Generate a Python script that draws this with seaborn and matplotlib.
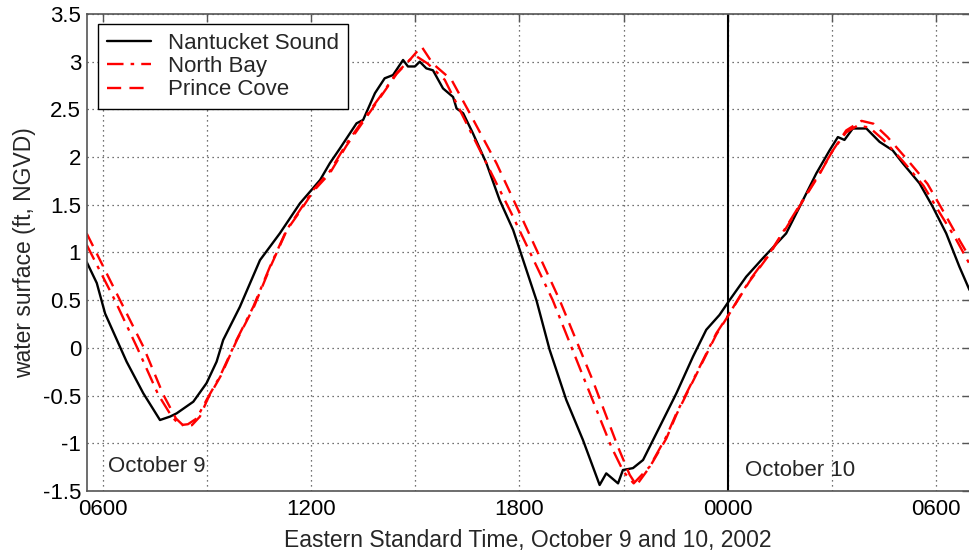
import matplotlib
matplotlib.use("Agg")
import matplotlib.pyplot as plt
import pandas as pd
import seaborn as sns

# Hours since midnight, October 9 2002 (EST)
ns_hours = [5.54, 5.83, 6.07, 6.69, 7.17, 7.65, 7.94, 8.13, 8.61, 8.99, 9.28, 9.47, 9.95,
            10.53, 11.10, 11.68, 12.26, 12.54, 12.83, 13.31, 13.50, 13.84, 14.12, 14.36,
            14.65, 14.79, 14.99, 15.13, 15.32, 15.51, 15.80, 16.09, 16.19, 16.38, 16.66,
            17.05, 17.43, 17.82, 18.49, 18.87, 19.35, 19.83, 20.31, 20.50, 20.84, 20.98,
            21.27, 21.56, 22.04, 22.52, 23.00, 23.38, 23.76, 24.05, 24.53, 25.01, 25.68,
            26.07, 26.55, 26.93, 27.17, 27.36, 27.60, 27.99, 28.37, 28.75, 29.04, 29.52,
            29.90, 30.29, 30.67, 30.96]
ns_level = [0.90, 0.68, 0.36, -0.145, -0.476, -0.756, -0.72, -0.686, -0.564, -0.37, -0.145,
            0.083, 0.43, 0.92, 1.20, 1.515, 1.76, 1.935, 2.09, 2.354, 2.39, 2.67, 2.826, 2.86,
            3.018, 2.95, 2.95, 3.00, 2.93, 2.91, 2.72, 2.63, 2.51, 2.46, 2.25, 1.935, 1.55,
            1.236, 0.50, -0.02, -0.546, -0.966, -1.437, -1.315, -1.42, -1.28, -1.26, -1.175,
            -0.826, -0.476, -0.09, 0.19, 0.345, 0.50, 0.746, 0.94, 1.20, 1.48, 1.83, 2.07,
            2.21, 2.18, 2.30, 2.30, 2.16, 2.07, 1.935, 1.725, 1.48, 1.20, 0.85, 0.607]

nb_hours = [5.54, 6.35, 6.98, 7.60, 7.99, 8.225, 8.455, 8.705, 8.99, 9.375, 9.855, 10.335,
            10.815, 11.295, 11.68, 12.06, 12.54, 13.02, 13.50, 13.98, 14.46, 14.845, 15.02,
            15.36, 15.85, 16.33, 17.05, 17.77, 18.96, 19.88, 20.65, 21.0, 21.29, 21.75,
            22.23, 22.52, 22.90, 23.285, 23.67, 24.05, 24.63, 25.20, 25.685, 26.16, 26.64,
            27.025, 27.41, 27.735, 28.08, 28.485, 29.06, 29.635, 30.095, 30.555, 30.96]
nb_level = [1.08, 0.50, 0.013, -0.49, -0.72, -0.81, -0.80, -0.74, -0.546, -0.30, 0.083, 0.43,
            0.85, 1.236, 1.445, 1.655, 1.85, 2.14, 2.39, 2.63, 2.88, 3.02, 3.06, 2.98, 2.81,
            2.46, 1.935, 1.41, 0.50, -0.34, -1.04, -1.30, -1.42, -1.245, -0.93, -0.686,
            -0.41, -0.13, 0.153, 0.363, 0.71, 0.99, 1.27, 1.55, 1.83, 2.07, 2.26, 2.33, 2.31,
            2.18, 1.95, 1.70, 1.42, 1.15, 0.88]

pc_hours = [5.54, 6.50, 7.17, 7.745, 8.11, 8.37, 8.57, 8.80, 9.03, 9.405, 9.865, 10.355,
            10.83, 11.305, 11.68, 12.06, 12.54, 13.02, 13.50, 13.98, 14.46, 14.845, 15.18,
            15.505, 16.045, 16.57, 17.34, 18.01, 19.16, 20.11, 20.84, 21.175, 21.37, 21.75,
            22.23, 22.52, 22.90, 23.285, 23.67, 24.05, 24.63, 25.20, 25.685, 26.16, 26.64,
            27.025, 27.41, 27.85, 28.195, 28.6, 29.175, 29.75, 30.24, 30.67, 30.96]
pc_level = [1.20, 0.50, 0.013, -0.49, -0.74, -0.83, -0.81, -0.72, -0.53, -0.29, 0.083, 0.43,
            0.85, 1.236, 1.43, 1.64, 1.83, 2.12, 2.37, 2.62, 2.87, 3.02, 3.16, 2.98, 2.81,
            2.46, 1.935, 1.41, 0.50, -0.34, -1.04, -1.33, -1.44, -1.25, -0.95, -0.70, -0.42,
            -0.14, 0.14, 0.36, 0.70, 0.98, 1.26, 1.54, 1.82, 2.07, 2.28, 2.38, 2.35, 2.21,
            1.97, 1.72, 1.41, 1.13, 0.95]

series_names = ["Nantucket Sound", "North Bay", "Prince Cove"]
x_ticks = [6, 9, 12, 15, 18, 21, 24, 27, 30]
x_tick_labels = ["0600", "", "1200", "", "1800", "", "0000", "", "0600"]
y_ticks = [-1.5, -1, -0.5, 0, 0.5, 1, 1.5, 2, 2.5, 3, 3.5]
y_tick_labels = ["-1.5", "-1", "-0.5", "0", "0.5", "1", "1.5", "2", "2.5", "3", "3.5"]

sns.set_theme(style="white")
plt.rcParams["font.family"] = ["Liberation Sans", "DejaVu Sans"]
FS_TICK = 16
FS_LAB = 16.5
FS_LEG = 16

W, H = 970, 554
fig = plt.figure(figsize=(W / 100, H / 100), dpi=100)
ax = fig.add_axes([86.7 / W, 1 - 491 / H, (969.5 - 86.7) / W, (491 - 14) / H])

df = pd.concat([
    pd.DataFrame({"hours": ns_hours, "level": ns_level, "site": series_names[0]}),
    pd.DataFrame({"hours": nb_hours, "level": nb_level, "site": series_names[1]}),
    pd.DataFrame({"hours": pc_hours, "level": pc_level, "site": series_names[2]}),
], ignore_index=True)

styles = {
    "Nantucket Sound": dict(color="black", linestyle="-"),
    "North Bay": dict(color="#ff0000", linestyle=(0, (7, 3, 1.5, 3))),
    "Prince Cove": dict(color="#ff0000", linestyle=(0, (6, 3.5))),
}
for name in series_names:
    sub = df[df["site"] == name]
    sns.lineplot(data=sub, x="hours", y="level", ax=ax, label=name, sort=False,
                 estimator=None, lw=1.7, **styles[name])

ax.axvline(24, color="black", lw=1.5, zorder=1)

ax.set_xlim(5.54, 30.96)
ax.set_ylim(-1.5, 3.5)
ax.set_xticks(x_ticks)
ax.set_xticklabels(x_tick_labels, fontsize=FS_TICK)
ax.set_yticks(y_ticks)
ax.set_yticklabels(y_tick_labels, fontsize=FS_TICK)
ax.tick_params(direction="in", length=6, width=1, color="#555555", top=True, right=True,
               labelcolor="black")
ax.tick_params(axis="y", pad=4)
ax.tick_params(axis="x", pad=6)
ax.grid(True, color="#444444", linestyle=(0, (1, 3)), linewidth=0.9)
for sp in ax.spines.values():
    sp.set_color("#555555")
    sp.set_linewidth(1.2)

ax.set_xlabel("Eastern Standard Time, October 9 and 10, 2002", fontsize=FS_LAB, labelpad=6)
ax.set_ylabel("water surface (ft, NGVD)", fontsize=FS_LAB, labelpad=5)

ax.text(6.15, -1.24, "October 9", fontsize=FS_LEG, ha="left", va="center")
ax.text(24.5, -1.28, "October 10", fontsize=FS_LEG, ha="left", va="center")

leg = ax.legend(loc="upper left", bbox_to_anchor=((98 - 86.7) / 882.8, (491 - 24) / 477),
                borderaxespad=0, fontsize=FS_LEG, frameon=True, fancybox=False,
                handlelength=2.0, handletextpad=0.75, labelspacing=0.1, borderpad=0.4)
leg.get_frame().set_edgecolor("black")
leg.get_frame().set_linewidth(1.0)
leg.get_frame().set_alpha(1)

fig.savefig("out.png", dpi=100)
